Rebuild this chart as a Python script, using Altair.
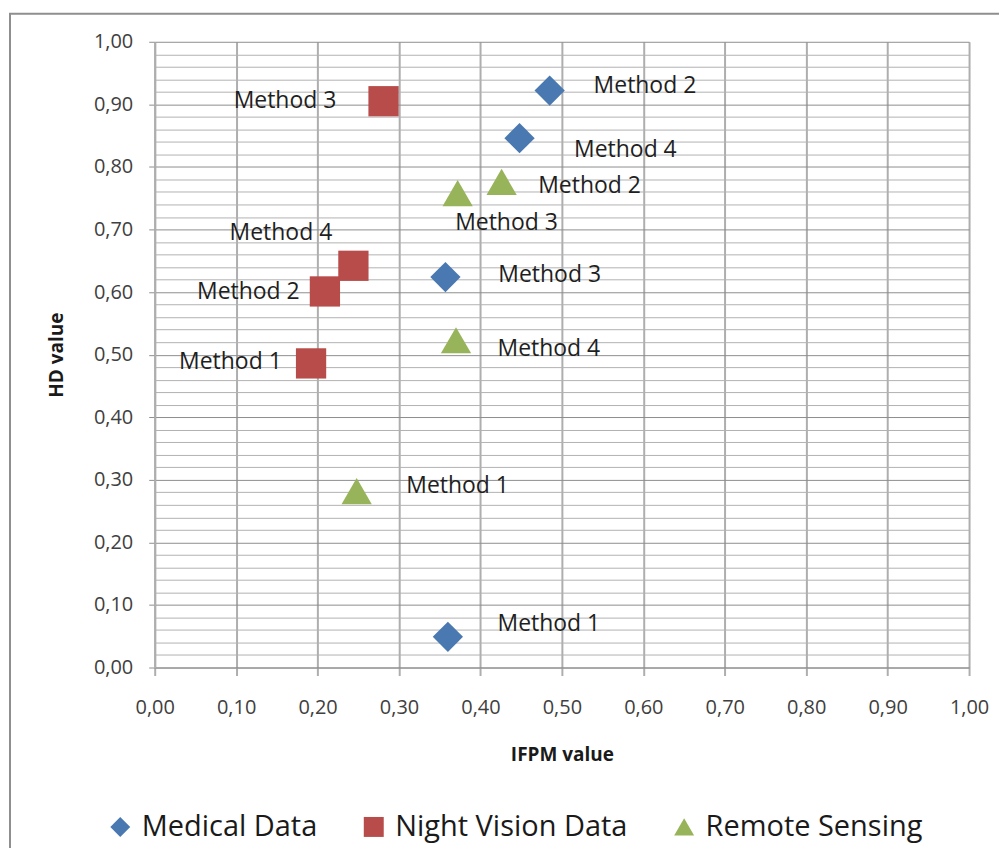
import altair as alt
import pandas as pd

# ---------------- data ----------------
series_names = ["Medical Data", "Night Vision Data", "Remote Sensing"]
methods = ["Method 1", "Method 2", "Method 3", "Method 4"]

medical_ifpm = [0.360, 0.485, 0.357, 0.448]
medical_hd = [0.049, 0.922, 0.624, 0.846]
night_ifpm = [0.192, 0.209, 0.281, 0.244]
night_hd = [0.486, 0.601, 0.905, 0.642]
remote_ifpm = [0.248, 0.426, 0.372, 0.370]
remote_hd = [0.282, 0.776, 0.758, 0.523]

# label placement relative to each point (data units)
medical_lab_dx = [0.124, 0.117, 0.128, 0.130]
medical_lab_dy = [0.020, 0.008, 0.003, -0.019]
night_lab_dx = [-0.099, -0.094, -0.121, -0.089]
night_lab_dy = [0.003, -0.001, 0.001, 0.052]
remote_lab_dx = [0.124, 0.108, 0.060, 0.114]
remote_lab_dy = [0.008, -0.006, -0.048, -0.014]

x_ticks = [0.0, 0.1, 0.2, 0.3, 0.4, 0.5, 0.6, 0.7, 0.8, 0.9, 1.0]
y_grid = [round(i * 0.02, 2) for i in range(51)]

colors = ["#4A78B0", "#B84C4A", "#97B45B"]
shapes = ["diamond", "square", "triangle-up"]

FONT = "Open Sans"

rows = []
for name, xs, ys, dxs, dys in [
    (series_names[0], medical_ifpm, medical_hd, medical_lab_dx, medical_lab_dy),
    (series_names[1], night_ifpm, night_hd, night_lab_dx, night_lab_dy),
    (series_names[2], remote_ifpm, remote_hd, remote_lab_dx, remote_lab_dy),
]:
    for m, xv, yv, dx, dy in zip(methods, xs, ys, dxs, dys):
        rows.append({"series": name, "method": m, "ifpm": xv, "hd": yv,
                     "lx": xv + dx, "ly": yv + dy})
df = pd.DataFrame(rows)

major_test = "abs(datum.value*10 - round(datum.value*10)) < 0.001"
fmt = "replace(format(datum.value, '.2f'), '.', ',')"

xscale = alt.Scale(domain=[0, 1], nice=False, zero=False)
yscale = alt.Scale(domain=[0, 1], nice=False, zero=False)

x_axis = alt.Axis(
    values=x_ticks, tickCount=20, labelExpr=fmt, grid=True,
    gridColor="#AEAEAE", gridWidth=2,
    tickSize=8, tickColor="#AEAEAE", tickWidth=2,
    domainColor="#8C8C8C", domainWidth=1,
    labelFont=FONT, labelFontSize=20, labelColor="#404040", labelPadding=22,
    labelFlush=False, labelOverlap=False,
    title="IFPM value", titleFont=FONT, titleFontSize=19, titleFontWeight="bold",
    titleColor="#1A1A1A", titleX=408, titleY=87, titleBaseline="middle",
)
y_axis = alt.Axis(
    values=y_grid, tickCount=100,
    labelExpr=major_test + " ? " + fmt + " : ''",
    grid=True,
    gridColor={"condition": {"test": major_test, "value": "#8E8E8E"}, "value": "#B2B2B2"},
    gridWidth=1,
    tickSize=6, tickColor="#8E8E8E",
    tickOpacity={"condition": {"test": major_test, "value": 1}, "value": 0},
    domainColor="#AEAEAE", domainWidth=2,
    labelFont=FONT, labelFontSize=20, labelColor="#404040", labelPadding=16,
    labelFlush=False, labelOverlap=False,
    title="HD value", titleFont=FONT, titleFontSize=19, titleFontWeight="bold",
    titleColor="#1A1A1A", titleX=-98, titleY=313.5, titleAngle=270,
    titleAlign="center", titleBaseline="middle",
)

legend = alt.Legend(
    title=None, orient="none", legendX=-49, legendY=772, direction="horizontal",
    labelFont=FONT, labelFontSize=29, labelColor="#1A1A1A", labelOffset=7,
    labelLimit=500, symbolSize=400, symbolStrokeWidth=0, columnPadding=42,
    padding=0,
)

border = alt.Chart(pd.DataFrame({"a": [0]})).mark_rect(
    fill="white", fillOpacity=0, stroke="#8F8F8F", strokeWidth=2
).encode(
    x=alt.value(-145), x2=alt.value(1000), y=alt.value(-28), y2=alt.value(1000)
)

points = alt.Chart(df).mark_point(filled=True, opacity=1, strokeWidth=0, size=920).encode(
    x=alt.X("ifpm:Q", scale=xscale, axis=x_axis),
    y=alt.Y("hd:Q", scale=yscale, axis=y_axis),
    color=alt.Color("series:N", scale=alt.Scale(domain=series_names, range=colors),
                    legend=legend),
    shape=alt.Shape("series:N", scale=alt.Scale(domain=series_names, range=shapes),
                    legend=legend),
)

labels = alt.Chart(df).mark_text(
    font=FONT, fontSize=23, color="#1F1F1F", align="center", baseline="middle"
).encode(
    x=alt.X("lx:Q", scale=xscale),
    y=alt.Y("ly:Q", scale=yscale),
    text="method:N",
)

chart = alt.layer(border, points, labels).properties(
    width=816, height=627,
    autosize=alt.AutoSizeParams(type="none"),
    padding={"left": 147, "top": 33, "right": 30, "bottom": 180},
).configure_view(stroke=None)

chart.save("out.html", embed_options={"renderer": "svg", "actions": False})
